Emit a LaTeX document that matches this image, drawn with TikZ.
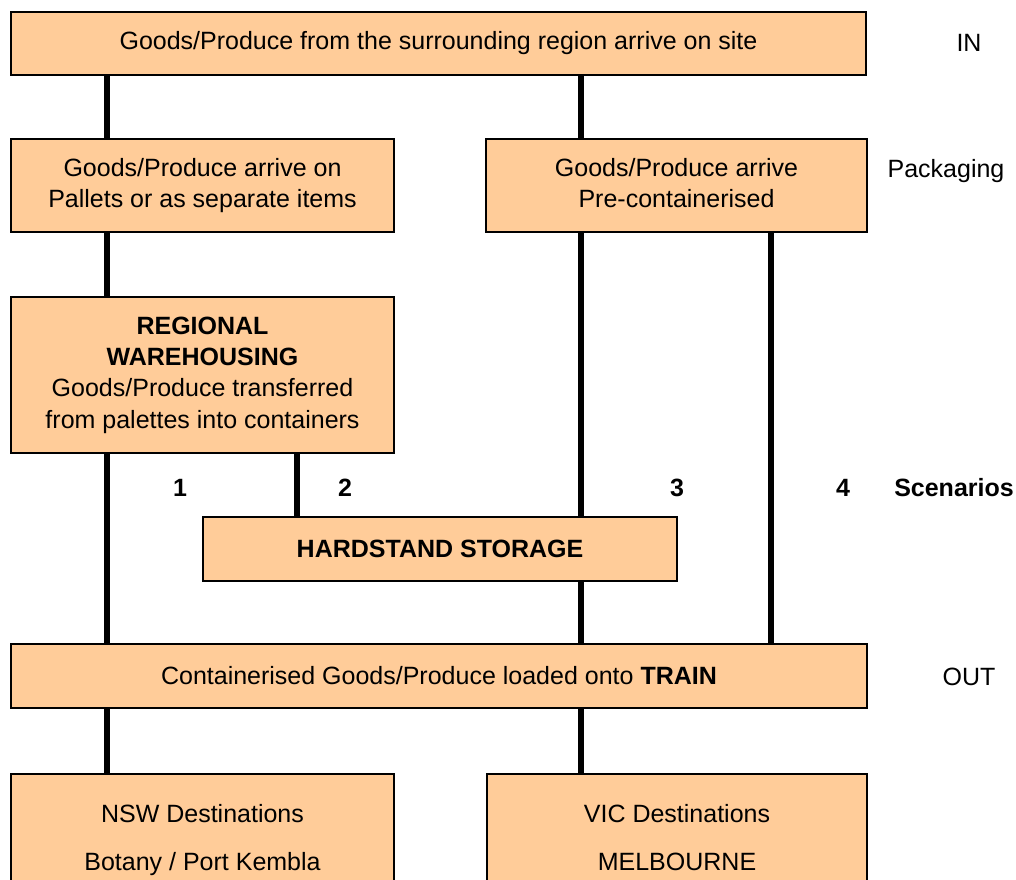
\documentclass[tikz,border=0pt]{standalone}
\usepackage{fontspec}
\setmainfont{Liberation Sans}
\usetikzlibrary{positioning}
\definecolor{boxfill}{RGB}{255, 204, 153}

\begin{document}
\begin{tikzpicture}[x=0.5pt, y=-0.5pt,
  box/.style={draw=black, line width=1.15pt, fill=boxfill, align=center,
    inner sep=0pt, font=\fontsize{12.5}{15.7}\selectfont},
  link/.style={line width=3pt},
  side/.style={font=\fontsize{12.5}{15.5}\selectfont},
  num/.style={font=\fontsize{12.5}{15.5}\selectfont\bfseries}]
  \useasboundingbox (0,0) rectangle (1016,879);

  % Columns of the connectors
  \coordinate (c1) at (107,0);
  \coordinate (c2) at (297,0);
  \coordinate (c3) at (581,0);
  \coordinate (c4) at (771,0);

  % Boxes
  \node[box, minimum width=427.5pt, minimum height=31.5pt] (inbox) at (438.5,43.5)
    {Goods/Produce from the surrounding region arrive on site};
  \node[box, minimum width=191.5pt, minimum height=46.5pt] (pallets) at (202.5,185.5)
    {Goods/Produce arrive on\\Pallets or as separate items};
  \node[box, minimum width=190.5pt, minimum height=46.5pt] (precont) at (676.5,185.5)
    {Goods/Produce arrive\\Pre-containerised\vphantom{y}};
  \node[box, minimum width=191.5pt, minimum height=78pt] (regional) at (202.5,375)
    {\textbf{REGIONAL}\\\textbf{WAREHOUSING}\\Goods/Produce transferred\\from palettes into containers};
  \node[box, minimum width=237pt, minimum height=32pt] (hardstand) at (440,549)
    {\textbf{HARDSTAND STORAGE}};
  \node[box, minimum width=428pt, minimum height=32pt] (train) at (439,676)
    {Containerised Goods/Produce loaded onto \textbf{TRAIN}};
  \node[box, minimum width=191.5pt, minimum height=66pt] (nsw) at (202.5,840)
    {NSW Destinations\\[8pt]Botany / Port Kembla};
  \node[box, minimum width=190pt, minimum height=66pt] (vic) at (677,840)
    {VIC Destinations\\[8pt]MELBOURNE\vphantom{y}};

  % Connectors
  \draw[link] (inbox.south -| c1) -- (pallets.north -| c1);
  \draw[link] (inbox.south -| c3) -- (precont.north -| c3);
  \draw[link] (pallets.south -| c1) -- (regional.north -| c1);
  \draw[link] (precont.south -| c3) -- (hardstand.north -| c3);
  \draw[link] (precont.south -| c4) -- (train.north -| c4);
  \draw[link] (regional.south -| c1) -- (train.north -| c1);
  \draw[link] (regional.south -| c2) -- (hardstand.north -| c2);
  \draw[link] (hardstand.south -| c3) -- (train.north -| c3);
  \draw[link] (train.south -| c1) -- (nsw.north -| c1);
  \draw[link] (train.south -| c3) -- (vic.north -| c3);

  % Labels on the right
  \node[side] (inlbl) at (969,43) {IN};
  \node[side] (packlbl) at (946,171) {Packaging};
  \node[side] (outlbl) at (969,677) {OUT};
  \node[num] (scenlbl) at (954,488) {Scenarios};

  % Scenario numbers
  \node[num] (n1) at (180,488) {1};
  \node[num] (n2) at (345,488) {2};
  \node[num] (n3) at (677,488) {3};
  \node[num] (n4) at (843,488) {4};
\end{tikzpicture}
\end{document}
